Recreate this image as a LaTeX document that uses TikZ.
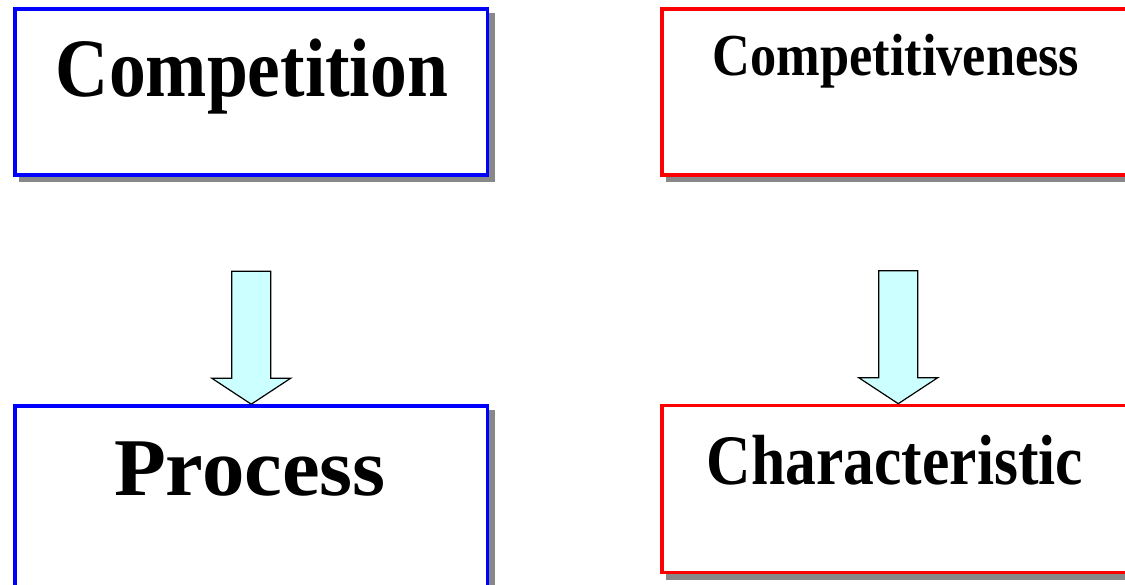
\documentclass[tikz,border=0pt]{standalone}
\usepackage{fontspec}
\setmainfont{Liberation Serif}
\usetikzlibrary{shadows}
\definecolor{shadowgray}{RGB}{136,136,136}
\definecolor{arrowfill}{RGB}{204,255,255}
\tikzset{
  box/.style={rectangle, line width=3.6pt, fill=white, minimum width=472.5pt, inner sep=0pt,
    drop shadow={shadow xshift=5.5pt, shadow yshift=-5.5pt, fill=shadowgray, draw=shadowgray, line width=3.6pt, opacity=1}},
  bluebox/.style={box, draw=blue},
  redbox/.style={box, draw=red},
  label/.style={anchor=base, inner sep=0pt, font=\bfseries},
  blockarrow/.style={draw=black, line width=1.2pt, fill=arrowfill, line join=miter}
}
\begin{document}
\begin{tikzpicture}[x=1pt,y=1pt]
\useasboundingbox (0,0) rectangle (1125,585);
\fill[white] (0,0) rectangle (1125,585);
% boxes
\node[bluebox, minimum height=165.7pt] (tl) at (251.25,492.85) {};
\node[redbox, minimum height=165.7pt] (tr) at (898.25,492.85) {};
\node[bluebox, minimum height=185pt] (bl) at (251.25,86.5) {};
\node[redbox, minimum height=167pt] (br) at (898.25,96) {};
% texts
\node[label] (t1) at (252,488.5) {\fontsize{83}{83}\selectfont\scalebox{0.886}[1]{Competition}};
\node[label] (t2) at (896,509) {\fontsize{59.5}{59.5}\selectfont\scalebox{0.88}[1]{Competitiveness}};
\node[label] (t3) at (250,89) {\fontsize{82}{82}\selectfont\scalebox{1.035}[1]{Process}};
\node[label] (t4) at (895,100.5) {\fontsize{71}{71}\selectfont\scalebox{0.867}[1]{Characteristic}};
% block arrows (tip on the north side of the lower boxes)
\foreach \n in {bl,br}{
  \draw[blockarrow] (\n.north)
    -- ++(-39.5,26) -- ++(20,0) -- ++(0,107) -- ++(39,0) -- ++(0,-107) -- ++(20,0) -- cycle;
}
\end{tikzpicture}
\end{document}
